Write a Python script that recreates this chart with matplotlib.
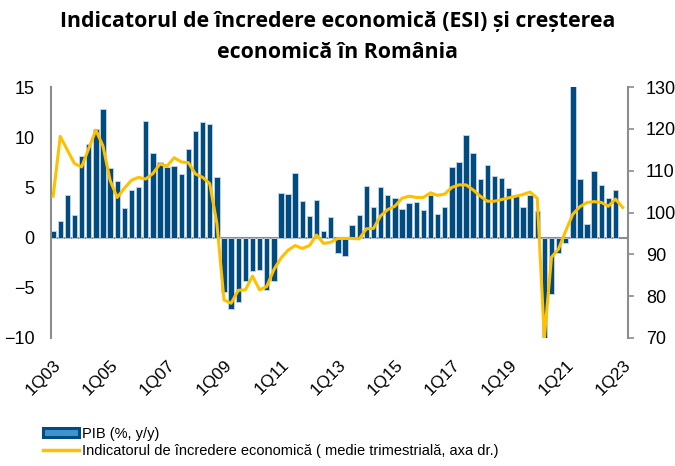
import matplotlib
matplotlib.use("Agg")
import matplotlib.pyplot as plt
from matplotlib.patches import Patch
from matplotlib.lines import Line2D

# PIB, % y/y, 1Q03 - 4Q22
pib = [0.7, 1.7, 4.2, 2.3, 8.1, 9.3, 10.8, 12.8, 6.9, 5.6,
       2.9, 4.7, 5.0, 11.6, 8.4, 7.5, 7.0, 7.1, 6.3, 8.8,
       10.6, 11.5, 11.3, 6.0, -5.4, -7.1, -6.4, -4.3, -3.3, -3.2,
       -5.2, -4.3, 4.4, 4.3, 6.4, 3.6, 2.2, 3.7, 0.7, 2.1,
       -1.5, -1.8, 1.3, 2.3, 5.1, 3.0, 5.0, 4.2, 3.9, 2.8,
       3.4, 3.5, 2.7, 4.2, 2.4, 3.0, 7.0, 7.5, 10.2, 8.4,
       5.8, 7.2, 6.1, 5.9, 4.9, 4.2, 3.0, 4.2, 2.6, -10.2,
       -5.6, -1.5, -0.5, 15.2, 5.8, 1.4, 6.6, 5.2, 3.9, 4.7]

# ESI, medie trimestriala, 1Q03 - 1Q23
esi = [103.9, 118.2, 114.9, 111.7, 110.9, 115.3, 119.7, 115.9, 107.7, 103.6,
       105.8, 107.7, 108.4, 108.0, 109.3, 111.6, 111.1, 113.1, 112.1, 111.9,
       109.2, 108.4, 106.9, 97.4, 79.1, 78.3, 81.4, 81.5, 84.8, 81.5,
       82.3, 86.3, 89.1, 91.0, 92.1, 91.4, 92.1, 94.6, 92.6, 92.9,
       93.8, 93.8, 93.8, 93.7, 96.1, 96.2, 99.2, 100.7, 101.5, 103.4,
       103.9, 103.6, 103.6, 104.7, 104.1, 104.4, 106.0, 106.6, 106.6, 105.4,
       103.9, 102.7, 102.7, 103.1, 103.5, 103.9, 104.3, 104.9, 103.4, 70.0,
       89.3, 91.3, 95.6, 99.6, 101.4, 102.4, 102.6, 102.4, 101.5, 103.2,
       101.2]

tick_pos = list(range(0, 81, 8))
tick_labels = ['1Q03', '1Q05', '1Q07', '1Q09', '1Q11', '1Q13',
               '1Q15', '1Q17', '1Q19', '1Q21', '1Q23']

blue = '#004b7f'
gold = '#ffc000'
grey = '#8c8c8c'

plt.rcParams['font.family'] = ['Liberation Sans', 'DejaVu Sans']

fig = plt.figure(figsize=(6.75, 4.66), dpi=100)
ax = fig.add_axes([51 / 675, 1 - 338 / 466, (628 - 51) / 675, (338 - 87) / 466])
ax2 = ax.twinx()

ax.axhline(0, color=grey, lw=1.5, zorder=1)
ax.bar(range(len(pib)), pib, width=0.76, color=blue,
       edgecolor='#c9d6e3', linewidth=0.6, zorder=2)
ax2.plot(range(len(esi)), esi, color=gold, lw=2.2, zorder=3)

ax.set_xlim(-0.3, 80.75)
ax.set_ylim(-10, 15)
ax.set_yticks([-10, -5, 0, 5, 10, 15])
ax2.set_ylim(70, 130)
ax2.set_yticks([70, 80, 90, 100, 110, 120, 130])

ax.set_xticks(tick_pos)
ax.set_xticklabels(tick_labels, rotation=45, ha='right', va='top',
                   rotation_mode='anchor', fontsize=12.5)
ax.tick_params(axis='x', length=0, pad=14)
ax.tick_params(axis='y', length=0, pad=12, labelsize=13)
ax2.tick_params(axis='y', length=4, width=1.2, color=grey, pad=9,
                labelsize=13)

for a in (ax, ax2):
    a.spines['top'].set_visible(False)
    a.spines['bottom'].set_visible(False)
    a.spines['left'].set_color(grey)
    a.spines['right'].set_color(grey)
    a.spines['left'].set_linewidth(1.5)
    a.spines['right'].set_linewidth(1.5)
ax.spines['right'].set_visible(False)
ax2.spines['left'].set_visible(False)

fig.text(0.5, 1 - 22 / 466, 'Indicatorul de încredere economică (ESI) și creșterea',
         ha='center', va='center', fontsize=15.3, fontweight='bold',
         family=['Open Sans', 'DejaVu Sans'])
fig.text(0.5, 1 - 53 / 466, 'economică în România',
         ha='center', va='center', fontsize=15.3, fontweight='bold',
         family=['Open Sans', 'DejaVu Sans'])

handles = [Patch(facecolor='#3d95d0', edgecolor=blue, linewidth=2.2),
           Line2D([0], [0], color=gold, lw=2.5)]
labels = ['PIB (%, y/y)',
          'Indicatorul de încredere economică ( medie trimestrială, axa dr.)']
fig.legend(handles, labels, loc='upper left',
           bbox_to_anchor=(43 / 675, 1 - 427 / 466), frameon=False,
           fontsize=10.5, handlelength=2.5, handleheight=0.55,
           handletextpad=0.2, labelspacing=0.22, borderpad=0,
           borderaxespad=0)

fig.savefig('out.png', dpi=100)
